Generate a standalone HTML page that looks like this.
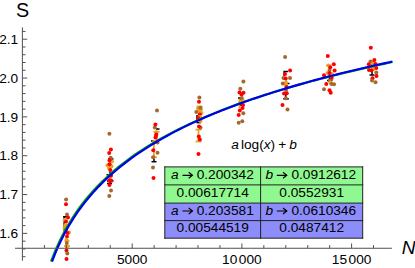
<!DOCTYPE html>
<html><head><meta charset="utf-8"><style>
html,body{margin:0;padding:0;background:#fff;}
svg{display:block}
text{font-family:"Liberation Sans",sans-serif;font-size:13.7px;fill:#000}
</style></head><body>
<svg width="415" height="268" viewBox="0 0 415 268">
<rect width="415" height="268" fill="#fff"/>
<path d="M63.1,216.8L67,216.8" stroke="#000000" stroke-width="1.5" fill="none"/>
<path d="M64.2,216.8L64.2,231" stroke="#000000" stroke-width="1.5" fill="none"/>
<path d="M64.5,240.8L69.5,240.8" stroke="#eda121" stroke-width="1.8" fill="none"/>
<path d="M64,246.1L70,246.1" stroke="#eda121" stroke-width="1.8" fill="none"/>
<path d="M66.7,240.8L66.7,246.1" stroke="#eda121" stroke-width="1.8" fill="none"/>
<path d="M66.5,244L66.5,248" stroke="#000000" stroke-width="1.5" fill="none"/>
<path d="M108,159L113.5,159" stroke="#000000" stroke-width="1.5" fill="none"/>
<path d="M106.5,174.8L110,174.8" stroke="#000000" stroke-width="1.5" fill="none"/>
<path d="M107,181L113.5,181" stroke="#000000" stroke-width="1.5" fill="none"/>
<path d="M107,183.5L112,183.5" stroke="#000000" stroke-width="1.5" fill="none"/>
<path d="M110,159L110,183.5" stroke="#000000" stroke-width="1.5" fill="none"/>
<path d="M110,162L110,172" stroke="#eda121" stroke-width="1.8" fill="none"/>
<path d="M156,129L159.5,129" stroke="#000000" stroke-width="1.5" fill="none"/>
<path d="M151,141L154,141" stroke="#000000" stroke-width="1.5" fill="none"/>
<path d="M154,158.5L154,161.7" stroke="#000000" stroke-width="1.5" fill="none"/>
<path d="M151.5,161.7L156.5,161.7" stroke="#000000" stroke-width="1.5" fill="none"/>
<path d="M153.5,131.8L159.5,131.8" stroke="#eda121" stroke-width="1.8" fill="none"/>
<path d="M156.5,131.8L156.5,140" stroke="#eda121" stroke-width="1.8" fill="none"/>
<path d="M153.9,141L153.9,158" stroke="#eda121" stroke-width="1.8" fill="none"/>
<path d="M151,157.3L157,157.3" stroke="#eda121" stroke-width="1.8" fill="none"/>
<path d="M196.5,106.5L202.5,106.5" stroke="#eda121" stroke-width="1.8" fill="none"/>
<path d="M199.5,106.5L199.5,113" stroke="#eda121" stroke-width="1.8" fill="none"/>
<path d="M197,115L197,122.6" stroke="#000000" stroke-width="1.5" fill="none"/>
<path d="M196.5,122.6L201,122.6" stroke="#000000" stroke-width="1.5" fill="none"/>
<path d="M195.5,129.6L201.5,129.6" stroke="#eda121" stroke-width="1.8" fill="none"/>
<path d="M198.5,129.6L198.5,141.5" stroke="#eda121" stroke-width="1.8" fill="none"/>
<path d="M195.5,141.5L201.5,141.5" stroke="#eda121" stroke-width="1.8" fill="none"/>
<path d="M238,98L242,98" stroke="#000000" stroke-width="1.5" fill="none"/>
<path d="M238.5,99.7L244.5,99.7" stroke="#eda121" stroke-width="1.8" fill="none"/>
<path d="M238.5,101.5L245,101.5" stroke="#eda121" stroke-width="1.8" fill="none"/>
<path d="M239.5,101L239.5,108" stroke="#eda121" stroke-width="1.8" fill="none"/>
<path d="M241,98L241,106" stroke="#000000" stroke-width="1.5" fill="none"/>
<path d="M283.5,71.5L288,71.5" stroke="#000000" stroke-width="1.5" fill="none"/>
<path d="M284.2,71.5L284.2,76" stroke="#000000" stroke-width="1.5" fill="none"/>
<path d="M286,80L286,91" stroke="#eda121" stroke-width="1.8" fill="none"/>
<path d="M287,83.5L289.5,83.5" stroke="#000000" stroke-width="1.5" fill="none"/>
<path d="M285.8,94L285.8,98.8" stroke="#000000" stroke-width="1.5" fill="none"/>
<path d="M283.2,98.8L288.8,98.8" stroke="#000000" stroke-width="1.5" fill="none"/>
<path d="M327,80.5L332.5,80.5" stroke="#000000" stroke-width="1.5" fill="none"/>
<path d="M329.5,73L329.5,80.5" stroke="#000000" stroke-width="1.5" fill="none"/>
<path d="M326,65.5L331,65.5" stroke="#eda121" stroke-width="1.8" fill="none"/>
<path d="M369.5,75L374.5,75" stroke="#000000" stroke-width="1.5" fill="none"/>
<path d="M372,63L372,75" stroke="#000000" stroke-width="1.5" fill="none"/>
<path d="M373,63L373,71" stroke="#eda121" stroke-width="1.8" fill="none"/>
<circle cx="66.1" cy="199.5" r="2.0" fill="#a5692d"/>
<circle cx="66.0" cy="204.3" r="2.0" fill="#ff0000"/>
<circle cx="67" cy="214.4" r="2.0" fill="#a5692d"/>
<circle cx="64.5" cy="220" r="2.0" fill="#eda121"/>
<circle cx="66" cy="221.5" r="2.0" fill="#ff0000"/>
<circle cx="68" cy="217.5" r="2.0" fill="#ff0000"/>
<circle cx="65.5" cy="225" r="2.0" fill="#eda121"/>
<circle cx="64.5" cy="228" r="2.0" fill="#eda121"/>
<circle cx="66" cy="229.5" r="2.0" fill="#a5692d"/>
<circle cx="69" cy="232.5" r="2.0" fill="#eda121"/>
<circle cx="67.5" cy="233" r="2.0" fill="#ff0000"/>
<circle cx="67" cy="236.5" r="2.0" fill="#ff0000"/>
<circle cx="66.5" cy="239.8" r="2.0" fill="#eda121"/>
<circle cx="67" cy="246.2" r="2.0" fill="#eda121"/>
<circle cx="66.8" cy="243" r="2.0" fill="#a5692d"/>
<circle cx="66.5" cy="250.5" r="2.0" fill="#ff0000"/>
<circle cx="67.3" cy="253.5" r="2.0" fill="#a5692d"/>
<circle cx="66.5" cy="259" r="2.0" fill="#ff0000"/>
<circle cx="109.4" cy="133.7" r="2.0" fill="#a5692d"/>
<circle cx="110.9" cy="149.6" r="2.0" fill="#ff0000"/>
<circle cx="109.2" cy="153" r="2.0" fill="#ff0000"/>
<circle cx="110.7" cy="157.7" r="2.0" fill="#a5692d"/>
<circle cx="112" cy="161.5" r="2.0" fill="#eda121"/>
<circle cx="109.5" cy="160.3" r="2.0" fill="#ff0000"/>
<circle cx="107.5" cy="165.2" r="2.0" fill="#eda121"/>
<circle cx="111.5" cy="166.3" r="2.0" fill="#eda121"/>
<circle cx="109" cy="168" r="2.0" fill="#eda121"/>
<circle cx="109.5" cy="164.3" r="2.0" fill="#ff0000"/>
<circle cx="110.3" cy="170" r="2.0" fill="#ff0000"/>
<circle cx="110.5" cy="177" r="2.0" fill="#eda121"/>
<circle cx="111" cy="175.5" r="2.0" fill="#ff0000"/>
<circle cx="109.3" cy="180.5" r="2.0" fill="#ff0000"/>
<circle cx="111.3" cy="180.8" r="2.0" fill="#ff0000"/>
<circle cx="109.5" cy="185" r="2.0" fill="#ff0000"/>
<circle cx="111" cy="190.5" r="2.0" fill="#a5692d"/>
<circle cx="109.3" cy="196" r="2.0" fill="#a5692d"/>
<circle cx="157" cy="110.5" r="2.0" fill="#a5692d"/>
<circle cx="154.8" cy="127.5" r="2.0" fill="#a5692d"/>
<circle cx="155.4" cy="124.4" r="2.0" fill="#ff0000"/>
<circle cx="156.3" cy="132.3" r="2.0" fill="#eda121"/>
<circle cx="156.3" cy="134.5" r="2.0" fill="#ff0000"/>
<circle cx="156" cy="136" r="2.0" fill="#ff0000"/>
<circle cx="155.5" cy="137.5" r="2.0" fill="#ff0000"/>
<circle cx="157.5" cy="142.5" r="2.0" fill="#a5692d"/>
<circle cx="154" cy="142" r="2.0" fill="#eda121"/>
<circle cx="153.3" cy="150.2" r="2.0" fill="#ff0000"/>
<circle cx="157.5" cy="152.8" r="2.0" fill="#a5692d"/>
<circle cx="153.2" cy="157.2" r="2.0" fill="#a5692d"/>
<circle cx="153" cy="167.5" r="2.0" fill="#a5692d"/>
<circle cx="153.5" cy="178" r="2.0" fill="#ff0000"/>
<circle cx="199.4" cy="97.4" r="2.0" fill="#a5692d"/>
<circle cx="199" cy="101.7" r="2.0" fill="#ff0000"/>
<circle cx="198" cy="108.5" r="2.0" fill="#eda121"/>
<circle cx="201" cy="109.3" r="2.0" fill="#eda121"/>
<circle cx="199.5" cy="111" r="2.0" fill="#eda121"/>
<circle cx="199" cy="110" r="2.0" fill="#eda121"/>
<circle cx="200.3" cy="107.7" r="2.0" fill="#a5692d"/>
<circle cx="196.3" cy="112" r="2.0" fill="#a5692d"/>
<circle cx="201.5" cy="113" r="2.0" fill="#eda121"/>
<circle cx="199.8" cy="114.5" r="2.0" fill="#ff0000"/>
<circle cx="200" cy="117" r="2.0" fill="#eda121"/>
<circle cx="200.5" cy="121" r="2.0" fill="#eda121"/>
<circle cx="198" cy="118" r="2.0" fill="#ff0000"/>
<circle cx="200.5" cy="127.5" r="2.0" fill="#a5692d"/>
<circle cx="199" cy="126.5" r="2.0" fill="#ff0000"/>
<circle cx="198.8" cy="136.5" r="2.0" fill="#ff0000"/>
<circle cx="199.8" cy="139.5" r="2.0" fill="#ff0000"/>
<circle cx="198.5" cy="154" r="2.0" fill="#ff0000"/>
<circle cx="243.4" cy="81.6" r="2.0" fill="#a5692d"/>
<circle cx="240.3" cy="88.7" r="2.0" fill="#a5692d"/>
<circle cx="239.5" cy="92.5" r="2.0" fill="#ff0000"/>
<circle cx="243.5" cy="92.8" r="2.0" fill="#ff0000"/>
<circle cx="241.5" cy="94.5" r="2.0" fill="#ff0000"/>
<circle cx="241.8" cy="98" r="2.0" fill="#a5692d"/>
<circle cx="241" cy="101.5" r="2.0" fill="#eda121"/>
<circle cx="243" cy="105" r="2.0" fill="#ff0000"/>
<circle cx="242.5" cy="108" r="2.0" fill="#ff0000"/>
<circle cx="239.8" cy="110.5" r="2.0" fill="#ff0000"/>
<circle cx="243.3" cy="113.3" r="2.0" fill="#a5692d"/>
<circle cx="238.7" cy="115" r="2.0" fill="#ff0000"/>
<circle cx="242.3" cy="121.3" r="2.0" fill="#a5692d"/>
<circle cx="238.7" cy="122.8" r="2.0" fill="#a5692d"/>
<circle cx="285.1" cy="57" r="2.0" fill="#a5692d"/>
<circle cx="290.1" cy="70.4" r="2.0" fill="#ff0000"/>
<circle cx="285" cy="74" r="2.0" fill="#ff0000"/>
<circle cx="290" cy="78" r="2.0" fill="#a5692d"/>
<circle cx="283.5" cy="78" r="2.0" fill="#a5692d"/>
<circle cx="285.7" cy="78.5" r="2.0" fill="#ff0000"/>
<circle cx="286" cy="82.5" r="2.0" fill="#eda121"/>
<circle cx="286" cy="85" r="2.0" fill="#eda121"/>
<circle cx="282.8" cy="83.5" r="2.0" fill="#a5692d"/>
<circle cx="286.5" cy="87" r="2.0" fill="#ff0000"/>
<circle cx="286" cy="90" r="2.0" fill="#a5692d"/>
<circle cx="284" cy="93.5" r="2.0" fill="#ff0000"/>
<circle cx="286.8" cy="93.3" r="2.0" fill="#ff0000"/>
<circle cx="285.7" cy="98.3" r="2.0" fill="#a5692d"/>
<circle cx="282.5" cy="105" r="2.0" fill="#ff0000"/>
<circle cx="287.5" cy="109.5" r="2.0" fill="#a5692d"/>
<circle cx="327.8" cy="56" r="2.0" fill="#ff0000"/>
<circle cx="328.5" cy="65.5" r="2.0" fill="#eda121"/>
<circle cx="333.8" cy="64.3" r="2.0" fill="#ff0000"/>
<circle cx="329.5" cy="70" r="2.0" fill="#a5692d"/>
<circle cx="330.3" cy="67.3" r="2.0" fill="#ff0000"/>
<circle cx="334.6" cy="70.5" r="2.0" fill="#ff0000"/>
<circle cx="327.5" cy="73" r="2.0" fill="#eda121"/>
<circle cx="332" cy="74" r="2.0" fill="#eda121"/>
<circle cx="329.5" cy="73" r="2.0" fill="#ff0000"/>
<circle cx="324" cy="75.3" r="2.0" fill="#ff0000"/>
<circle cx="331.7" cy="78" r="2.0" fill="#ff0000"/>
<circle cx="329.8" cy="80.5" r="2.0" fill="#a5692d"/>
<circle cx="330.5" cy="82.5" r="2.0" fill="#eda121"/>
<circle cx="326.3" cy="84" r="2.0" fill="#ff0000"/>
<circle cx="331.5" cy="84" r="2.0" fill="#a5692d"/>
<circle cx="334" cy="84.3" r="2.0" fill="#a5692d"/>
<circle cx="324" cy="89.3" r="2.0" fill="#a5692d"/>
<circle cx="329.5" cy="90.3" r="2.0" fill="#ff0000"/>
<circle cx="330.7" cy="92.8" r="2.0" fill="#ff0000"/>
<circle cx="370.8" cy="47.8" r="2.0" fill="#ff0000"/>
<circle cx="370.5" cy="61.5" r="2.0" fill="#a5692d"/>
<circle cx="372.5" cy="62.5" r="2.0" fill="#a5692d"/>
<circle cx="373" cy="63.5" r="2.0" fill="#eda121"/>
<circle cx="374.4" cy="60" r="2.0" fill="#ff0000"/>
<circle cx="368.8" cy="64.3" r="2.0" fill="#ff0000"/>
<circle cx="375.5" cy="64" r="2.0" fill="#ff0000"/>
<circle cx="373.5" cy="69" r="2.0" fill="#eda121"/>
<circle cx="372.5" cy="67" r="2.0" fill="#eda121"/>
<circle cx="369" cy="70" r="2.0" fill="#ff0000"/>
<circle cx="371.5" cy="70.5" r="2.0" fill="#ff0000"/>
<circle cx="376.3" cy="68" r="2.0" fill="#ff0000"/>
<circle cx="376.3" cy="72.5" r="2.0" fill="#a5692d"/>
<circle cx="376.5" cy="76" r="2.0" fill="#ff0000"/>
<circle cx="372.5" cy="78.3" r="2.0" fill="#ff0000"/>
<circle cx="372" cy="80.5" r="2.0" fill="#a5692d"/>
<circle cx="375.5" cy="82.3" r="2.0" fill="#a5692d"/>
<path d="M51.01,261.50 L55.28,250.65 L59.54,241.12 L63.81,232.64 L68.08,224.99 L72.35,218.02 L76.61,211.63 L80.88,205.73 L85.15,200.24 L89.42,195.11 L93.68,190.30 L97.95,185.77 L102.22,181.49 L106.49,177.43 L110.75,173.57 L115.02,169.90 L119.29,166.39 L123.56,163.03 L127.82,159.81 L132.09,156.72 L136.36,153.75 L140.63,150.89 L144.89,148.13 L149.16,145.46 L153.43,142.88 L157.70,140.39 L161.96,137.97 L166.23,135.62 L170.50,133.35 L174.77,131.13 L179.03,128.98 L183.30,126.89 L187.57,124.85 L191.84,122.87 L196.10,120.93 L200.37,119.04 L204.64,117.19 L208.91,115.39 L213.17,113.63 L217.44,111.91 L221.71,110.22 L225.98,108.57 L230.24,106.96 L234.51,105.38 L238.78,103.83 L243.05,102.31 L247.31,100.81 L251.58,99.35 L255.85,97.92 L260.12,96.51 L264.38,95.12 L268.65,93.76 L272.92,92.42 L277.19,91.11 L281.45,89.81 L285.72,88.54 L289.99,87.29 L294.26,86.06 L298.52,84.85 L302.79,83.65 L307.06,82.48 L311.33,81.32 L315.59,80.18 L319.86,79.05 L324.13,77.94 L328.40,76.85 L332.66,75.77 L336.93,74.71 L341.20,73.66 L345.47,72.63 L349.73,71.60 L354.00,70.60 L358.27,69.60 L362.54,68.62 L366.80,67.65 L371.07,66.69 L375.34,65.74 L379.61,64.81 L383.87,63.88 L388.14,62.97 L392.41,62.07" fill="none" stroke="#00a000" stroke-width="2.15"/>
<path d="M52.01,261.50 L56.26,250.85 L60.52,241.46 L64.77,233.07 L69.03,225.49 L73.28,218.57 L77.54,212.21 L81.79,206.32 L86.05,200.84 L90.30,195.72 L94.56,190.90 L98.81,186.37 L103.07,182.08 L107.32,178.01 L111.58,174.14 L115.83,170.45 L120.09,166.92 L124.34,163.55 L128.60,160.31 L132.85,157.20 L137.11,154.21 L141.36,151.33 L145.62,148.55 L149.87,145.86 L154.13,143.26 L158.38,140.75 L162.64,138.31 L166.89,135.94 L171.15,133.65 L175.40,131.42 L179.66,129.25 L183.91,127.13 L188.17,125.08 L192.42,123.07 L196.68,121.12 L200.93,119.21 L205.19,117.34 L209.44,115.52 L213.70,113.74 L217.95,112.00 L222.21,110.30 L226.46,108.63 L230.72,107.00 L234.97,105.40 L239.23,103.83 L243.48,102.30 L247.74,100.79 L251.99,99.31 L256.25,97.86 L260.50,96.43 L264.76,95.03 L269.01,93.65 L273.27,92.30 L277.52,90.97 L281.78,89.66 L286.03,88.37 L290.29,87.11 L294.54,85.86 L298.80,84.63 L303.05,83.42 L307.31,82.23 L311.56,81.06 L315.82,79.91 L320.07,78.77 L324.33,77.64 L328.58,76.54 L332.84,75.45 L337.09,74.37 L341.35,73.31 L345.60,72.26 L349.86,71.22 L354.11,70.20 L358.37,69.19 L362.62,68.20 L366.88,67.22 L371.13,66.24 L375.39,65.29 L379.64,64.34 L383.90,63.40 L388.15,62.48 L392.41,61.56" fill="none" stroke="#0000f0" stroke-width="2.15"/>
<path d="M22.4,27.4V260.8M15,248.25H391.9" stroke="#505050" stroke-width="1" fill="none"/>
<path d="M22.4,256.70h3.1M22.4,248.94h3.1M22.4,241.17h3.1M22.4,233.40h4.8M22.4,225.63h3.1M22.4,217.86h3.1M22.4,210.10h3.1M22.4,202.33h3.1M22.4,194.56h4.8M22.4,186.79h3.1M22.4,179.02h3.1M22.4,171.26h3.1M22.4,163.49h3.1M22.4,155.72h4.8M22.4,147.95h3.1M22.4,140.18h3.1M22.4,132.42h3.1M22.4,124.65h3.1M22.4,116.88h4.8M22.4,109.11h3.1M22.4,101.34h3.1M22.4,93.58h3.1M22.4,85.81h3.1M22.4,78.04h4.8M22.4,70.27h3.1M22.4,62.50h3.1M22.4,54.74h3.1M22.4,46.97h3.1M22.4,39.20h4.8M22.4,31.43h3.1M44.44,248.25v-3.1M66.38,248.25v-3.1M88.32,248.25v-3.1M110.26,248.25v-3.1M132.20,248.25v-4.8M154.14,248.25v-3.1M176.08,248.25v-3.1M198.02,248.25v-3.1M219.96,248.25v-3.1M241.90,248.25v-4.8M263.84,248.25v-3.1M285.78,248.25v-3.1M307.72,248.25v-3.1M329.66,248.25v-3.1M351.60,248.25v-4.8M373.54,248.25v-3.1" stroke="#505050" stroke-width="1" fill="none"/>
<rect x="164.8" y="166.9" width="197.89999999999998" height="36.19999999999999" fill="#90f890"/>
<rect x="164.8" y="203.1" width="197.89999999999998" height="35.099999999999994" fill="#8c8cfa"/>
<path d="M164.8,166.9H362.7M164.8,184.9H362.7M164.8,203.1H362.7M164.8,220.6H362.7M164.8,238.2H362.7M164.8,166.9V238.2M260.6,166.9V238.2M362.7,166.9V238.2" stroke="#222" stroke-width="1" fill="none" stroke-linecap="square"/>
<text x="171.0" y="178.9" font-style="italic">a</text>
<path d="M182.5,175.3H192.5M188.7,172.3L192.5,175.3L188.7,178.3" stroke="#000" stroke-width="1.15" fill="none"/>
<text x="196.7" y="178.9">0.200342</text>
<text x="265.6" y="178.9" font-style="italic">b</text>
<path d="M276.8,175.3H286.8M283.0,172.3L286.8,175.3L283.0,178.3" stroke="#000" stroke-width="1.15" fill="none"/>
<text x="291.4" y="178.9">0.0912612</text>
<text x="171.0" y="214.6" font-style="italic">a</text>
<path d="M182.5,211.0H192.5M188.7,208.0L192.5,211.0L188.7,214.0" stroke="#000" stroke-width="1.15" fill="none"/>
<text x="196.7" y="214.6">0.203581</text>
<text x="265.6" y="214.6" font-style="italic">b</text>
<path d="M276.8,211.0H286.8M283.0,208.0L286.8,211.0L283.0,214.0" stroke="#000" stroke-width="1.15" fill="none"/>
<text x="291.4" y="214.6">0.0610346</text>
<text x="212.70000000000002" y="196.7" text-anchor="middle">0.00617714</text>
<text x="311.65" y="196.7" text-anchor="middle">0.0552931</text>
<text x="212.70000000000002" y="232.3" text-anchor="middle">0.00544519</text>
<text x="311.65" y="232.3" text-anchor="middle">0.0487412</text>
<text x="18.2" y="43.90" text-anchor="end">2.1</text>
<text x="18.2" y="82.74" text-anchor="end">2.0</text>
<text x="18.2" y="121.58" text-anchor="end">1.9</text>
<text x="18.2" y="160.42" text-anchor="end">1.8</text>
<text x="18.2" y="199.26" text-anchor="end">1.7</text>
<text x="18.2" y="238.10" text-anchor="end">1.6</text>
<text x="132.20" y="264.2" text-anchor="middle">5000</text>
<text x="241.90" y="264.2" text-anchor="middle">10<tspan dx="1.5">000</tspan></text>
<text x="351.60" y="264.2" text-anchor="middle">15<tspan dx="1.5">000</tspan></text>
<text x="22.7" y="16.6" text-anchor="middle" style="font-size:19.8px">S</text>
<text x="401.8" y="254.4" style="font-size:19px;font-style:italic">N</text>
<text x="231.3" y="149.3"><tspan font-style="italic">a</tspan><tspan dx="2.0">log(</tspan><tspan font-style="italic">x</tspan>)<tspan dx="3.1">+</tspan><tspan dx="3.0" font-style="italic">b</tspan></text>
</svg>
</body></html>
